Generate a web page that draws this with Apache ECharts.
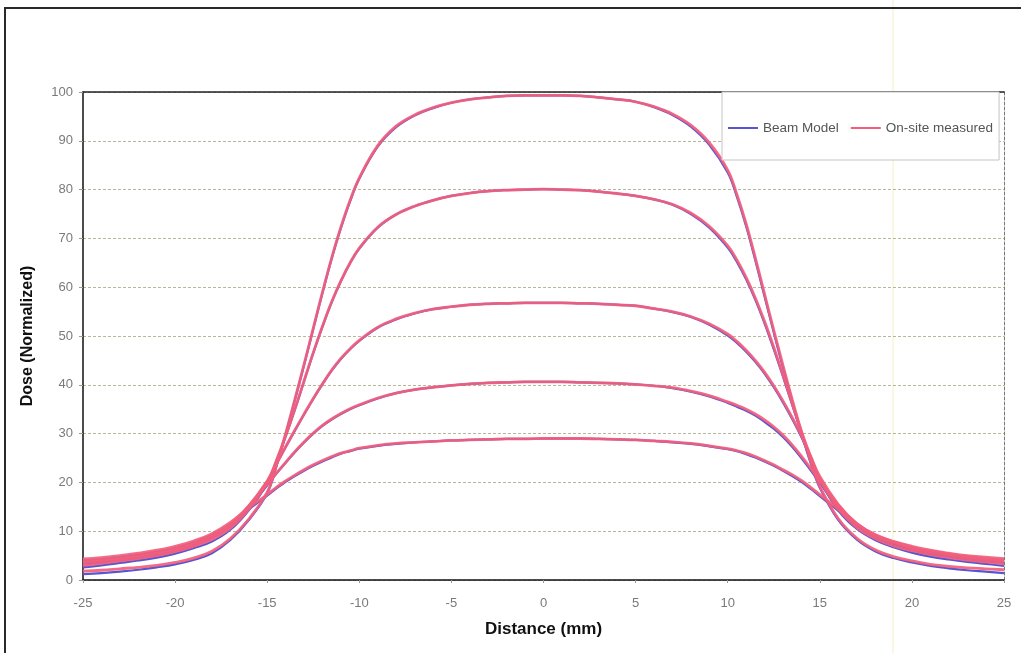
<!DOCTYPE html>
<html>
<head>
<meta charset="utf-8">
<script src="https://cdn.jsdelivr.net/npm/echarts@6/dist/echarts.min.js"></script>
<style>
html,body{margin:0;padding:0;background:#fff;}
#chart{width:1021px;height:653px;}
</style>
</head>
<body>
<div id="chart"></div>
<script>
// Distance positions (mm)
var distances = [-25,-24,-23,-22,-21,-20,-19,-18,-17,-16,-15,-14.5,-14,-13.5,-13,-12.5,-12,-11.5,-11,-10.5,-10,-9,-8,-7,-6,-5,-4,-3,-2,-1,0,
  1,2,3,4,5,6,7,8,9,10,10.5,11,11.5,12,12.5,13,13.5,14,14.5,15,16,17,18,19,20,21,22,23,24,25];

// On-site measured profiles
var measuredA = [1.8,2.0,2.3,2.6,3.0,3.6,4.5,5.9,8.5,12.5,18,23.5,30,37,44.2,51.6,59,66,72.3,77.8,82.4,89,93,95.3,96.8,97.8,98.5,98.9,99.2,99.3,99.3,
  99.3,99.2,98.9,98.5,98,97,95.5,93.2,89.6,84,79,73,66,58.6,51.2,44,37,30.4,24.4,19.2,12.6,8.6,6.2,4.8,3.9,3.2,2.8,2.5,2.3,2.1];
var measuredB = [3.0,3.4,3.9,4.4,5.0,5.8,6.9,8.3,10.6,14.5,20,24.5,29.5,35,40.8,46.6,52,57,61.3,65,68,72.3,74.9,76.6,77.8,78.7,79.3,79.7,79.9,80,80.1,
  80,79.9,79.6,79.2,78.7,78,77,75.2,72.5,68.5,65.6,62,57.8,53,47.7,42,36.2,30.5,25.3,20.7,14.6,10.8,8.5,7,6,5.2,4.6,4.1,3.7,3.3];
var measuredC = [3.5,3.9,4.3,4.8,5.4,6.2,7.3,8.8,11.2,15.2,20.3,23.8,27.3,30.7,34,37.2,40.2,43,45.4,47.4,49.1,51.8,53.5,54.7,55.5,56,56.4,56.6,56.7,56.8,56.8,
  56.8,56.7,56.6,56.4,56.2,55.6,55,54,52.5,50.4,48.9,47.1,45,42.6,39.8,36.7,33.3,29.6,25.4,21.2,15.5,11.5,9,7.6,6.5,5.7,5.1,4.6,4.2,3.8];
var measuredD = [3.8,4.1,4.5,5.0,5.6,6.4,7.5,9.0,11.4,15.2,19.6,21.9,24.1,26.3,28.3,30.1,31.7,33,34.1,35.1,35.9,37.3,38.3,39,39.5,39.9,40.2,40.4,40.5,40.6,40.6,
  40.6,40.5,40.4,40.3,40.1,39.8,39.4,38.7,37.8,36.5,35.8,35,34,32.8,31.4,29.7,27.7,25.4,22.9,20.3,15.3,11.6,9.2,7.8,6.7,5.9,5.3,4.8,4.4,4.1];
var measuredE = [4.3,4.6,5.0,5.5,6.1,6.9,8.0,9.5,11.8,14.8,17.5,19,20.3,21.5,22.6,23.6,24.5,25.3,26,26.5,27,27.6,28,28.2,28.4,28.6,28.7,28.8,28.9,28.9,29,
  29,29,28.9,28.8,28.7,28.5,28.3,28,27.5,26.9,26.5,26,25.3,24.5,23.6,22.6,21.6,20.4,19,17.5,14.5,11.5,9.3,7.9,6.9,6.1,5.5,5.0,4.7,4.4];

// Beam model profiles
var modelA = [1.2,1.4,1.7,2.1,2.6,3.2,4.1,5.5,8.2,12.3,17.8,23.3,29.8,36.8,44,51.4,58.8,65.8,72.1,77.6,82.2,88.8,92.8,95.2,96.7,97.8,98.5,98.9,99.2,99.3,99.3,
  99.3,99.2,98.9,98.5,98,96.9,95.3,92.9,89.2,83.5,78.5,72.5,65.5,58.1,50.7,43.5,36.6,30,24,18.9,12.3,8.3,5.9,4.5,3.6,2.9,2.4,2.0,1.7,1.4];
var modelB = [2.6,3.0,3.5,4.0,4.6,5.4,6.5,7.9,10.3,14.3,19.8,24.4,29.4,34.9,40.7,46.5,51.9,56.9,61.2,64.9,67.9,72.2,74.9,76.6,77.8,78.7,79.3,79.7,79.9,80,80.1,
  80,79.9,79.6,79.2,78.7,78,76.9,75,72.2,68.1,65.2,61.6,57.4,52.6,47.3,41.7,35.9,30.2,25,20.4,14.3,10.5,8.2,6.7,5.6,4.8,4.2,3.7,3.3,2.9];
var modelC = [3.2,3.6,4.0,4.5,5.1,5.9,7.0,8.6,11.0,15.0,20.2,23.7,27.2,30.6,33.9,37.1,40.1,42.9,45.3,47.3,49,51.7,53.4,54.6,55.5,56,56.4,56.6,56.7,56.8,56.8,
  56.8,56.7,56.6,56.4,56.2,55.6,54.9,53.9,52.3,50.1,48.6,46.8,44.7,42.3,39.5,36.4,33,29.3,25.1,20.9,15.2,11.2,8.7,7.2,6.1,5.3,4.7,4.2,3.8,3.5];
var modelD = [3.5,3.8,4.2,4.7,5.3,6.1,7.2,8.8,11.2,15.0,19.4,21.8,24,26.2,28.2,30,31.6,32.9,34,35,35.8,37.2,38.3,39,39.5,39.9,40.2,40.4,40.5,40.6,40.6,
  40.6,40.5,40.4,40.3,40.1,39.8,39.3,38.6,37.6,36.3,35.5,34.7,33.7,32.4,31,29.3,27.3,25,22.5,19.9,15,11.3,8.9,7.5,6.4,5.6,5.0,4.4,4.0,3.6];
var modelE = [4.0,4.3,4.7,5.2,5.8,6.6,7.7,9.2,11.5,14.5,17.3,18.8,20.1,21.3,22.4,23.4,24.3,25.1,25.9,26.4,26.9,27.5,27.9,28.2,28.4,28.6,28.7,28.8,28.9,28.9,29,
  29,29,28.9,28.8,28.7,28.5,28.2,27.9,27.4,26.8,26.4,25.8,25.1,24.3,23.4,22.4,21.3,20.1,18.7,17.2,14.2,11.2,9.0,7.6,6.6,5.8,5.2,4.7,4.3,4.0];

var seriesNames = ['Beam Model', 'On-site measured'];
var xAxisTitle = 'Distance (mm)';
var yAxisTitle = 'Dose (Normalized)';

var modelSets = [modelA, modelB, modelC, modelD, modelE];
var measuredSets = [measuredA, measuredB, measuredC, measuredD, measuredE];

function pairs(vals) {
  return distances.map(function (d, i) { return [d, vals[i]]; });
}

var blue = '#5656d2';
var red = '#f25e7c';
var series = [];
modelSets.forEach(function (vals) {
  series.push({
    name: seriesNames[0], type: 'line', smooth: 0.4, symbol: 'none',
    data: pairs(vals), z: 2,
    lineStyle: { color: blue, width: 2.2 }, itemStyle: { color: blue }
  });
});
measuredSets.forEach(function (vals) {
  series.push({
    name: seriesNames[1], type: 'line', smooth: 0.4, symbol: 'none',
    data: pairs(vals), z: 3,
    lineStyle: { color: red, width: 2.8, opacity: 0.92 }, itemStyle: { color: red }
  });
});

var font = 'Liberation Sans, Arial, sans-serif';
var chart = echarts.init(document.getElementById('chart'), null, { renderer: 'canvas' });
chart.setOption({
  animation: false,
  backgroundColor: '#ffffff',
  grid: { left: 83, right: 17, top: 92, bottom: 73, containLabel: false },
  legend: {
    data: seriesNames,
    left: 722, top: 92,
    padding: [29, 6, 25, 6],
    itemGap: 12,
    itemWidth: 30, itemHeight: 2,
    icon: 'rect',
    borderColor: '#c4c4c4', borderWidth: 1,
    backgroundColor: '#ffffff',
    textStyle: { fontFamily: font, fontSize: 13.5, color: '#555' }
  },
  xAxis: [{
    type: 'value', min: -25, max: 25, interval: 5,
    name: xAxisTitle, nameLocation: 'middle', nameGap: 41,
    nameTextStyle: { fontFamily: font, fontSize: 17, fontWeight: 'bold', color: '#111' },
    axisLine: { show: true, onZero: false, lineStyle: { color: '#111', width: 1.5 } },
    axisTick: { show: true, length: 3, inside: false, lineStyle: { color: '#999' } },
    axisLabel: { fontFamily: font, fontSize: 13, color: '#7a7a7a', margin: 17 },
    splitLine: { show: false }
  }, {
    type: 'value', min: -25, max: 25, position: 'top',
    axisLine: { show: true, onZero: false, lineStyle: { color: '#222', width: 1.5 } },
    axisTick: { show: false }, axisLabel: { show: false }, splitLine: { show: false }
  }],
  yAxis: [{
    type: 'value', min: 0, max: 100, interval: 10,
    name: yAxisTitle, nameLocation: 'middle', nameGap: 47,
    nameTextStyle: { fontFamily: font, fontSize: 16, fontWeight: 'bold', color: '#111' },
    axisLine: { show: true, onZero: false, lineStyle: { color: '#111', width: 1.5 } },
    axisTick: { show: true, length: 4, lineStyle: { color: '#999' } },
    axisLabel: { fontFamily: font, fontSize: 13, color: '#7a7a7a', margin: 10 },
    splitLine: { show: true, lineStyle: { color: '#b9b49a', width: 1, type: [3, 2] } }
  }, {
    type: 'value', min: 0, max: 100, position: 'right',
    axisLine: { show: true, onZero: false, lineStyle: { color: '#777', width: 1, type: [3, 2] } },
    axisTick: { show: false }, axisLabel: { show: false }, splitLine: { show: false }
  }],
  graphic: [
    { type: 'line', silent: true, z: 0, shape: { x1: 893, y1: 0, x2: 893, y2: 653 },
      style: { stroke: '#f4efc4', lineWidth: 1 } },
    { type: 'rect', silent: true, z: 100, shape: { x: 5, y: 8, width: 1040, height: 670 },
      style: { fill: null, stroke: '#2a2a2a', lineWidth: 2 } }
  ],
  series: series
});
</script>
</body>
</html>
